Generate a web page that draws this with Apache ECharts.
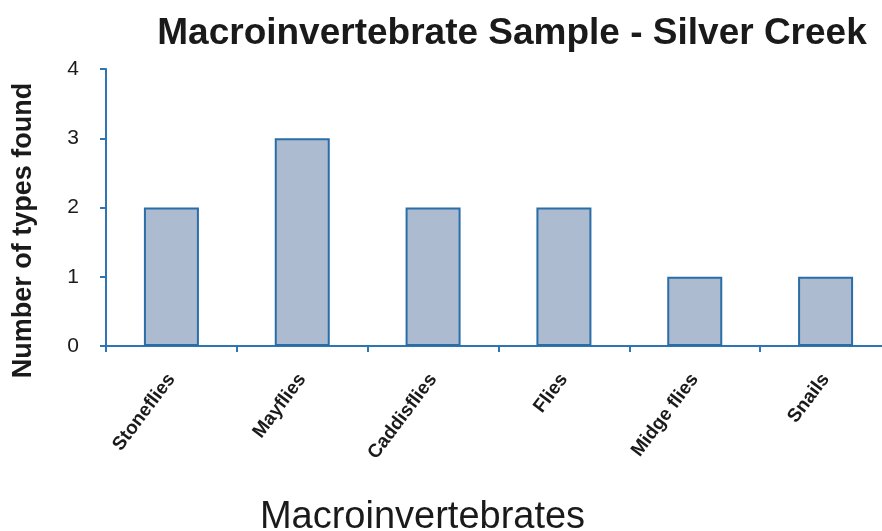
<!DOCTYPE html>
<html><head><meta charset="utf-8">
<script src="https://cdn.jsdelivr.net/npm/echarts@6/dist/echarts.min.js"></script>
<style>html,body{margin:0;padding:0;background:#fff}#c{width:882px;height:531px}</style>
</head><body><div id="c"></div>
<script>
const categories = ["Stoneflies","Mayflies","Caddisflies","Flies","Midge flies","Snails"];
const counts = [2,3,2,2,1,1];
const yTicks = [0,1,2,3,4];
const titleText = "Macroinvertebrate Sample - Silver Creek";
const xName = "Macroinvertebrates";
const yName = "Number of types found";

const axisColor = "#2e75b6";
const font = 'Liberation Sans, Arial, sans-serif';
const chart = echarts.init(document.getElementById('c'), null, {renderer:'canvas'});
chart.setOption({
  animation:false,
  backgroundColor:'#fff',
  title:{text:titleText,left:507,top:10,textAlign:'center',
    textStyle:{fontFamily:font,fontWeight:'bold',fontSize:37,color:'#1a1a1a'}},
  grid:{left:106,top:69,width:785,height:277,containLabel:false,outerBoundsMode:'none'},
  xAxis:{type:'category',data:categories,
    axisLine:{lineStyle:{color:axisColor,width:2}},
    axisTick:{show:true,alignWithLabel:false,length:6,lineStyle:{color:axisColor,width:2}},
    axisLabel:{rotate:53,margin:30,interval:0,fontFamily:font,fontWeight:'bold',fontSize:19,color:'#1a1a1a'},
    name:xName,nameLocation:'middle',nameGap:153,
    nameTextStyle:{fontFamily:font,fontSize:38,color:'#1a1a1a',padding:[0,0,0,-152]}},
  yAxis:{type:'value',min:yTicks[0],max:yTicks[yTicks.length-1],interval:1,
    axisLine:{show:true,lineStyle:{color:axisColor,width:2}},
    axisTick:{show:true,length:6,lineStyle:{color:axisColor,width:2}},
    splitLine:{show:false},
    axisLabel:{margin:27,fontFamily:font,fontSize:21,color:'#1a1a1a'},
    name:yName,nameLocation:'middle',nameGap:69,nameRotate:90,
    nameTextStyle:{fontFamily:font,fontWeight:'bold',fontSize:27,color:'#1a1a1a',padding:[0,0,0,-46]}},
  series:[{type:'bar',data:counts,barWidth:55,
    itemStyle:{color:'#adbbd0',borderColor:'#2a6ea8',borderWidth:2}}]
});
</script></body></html>
